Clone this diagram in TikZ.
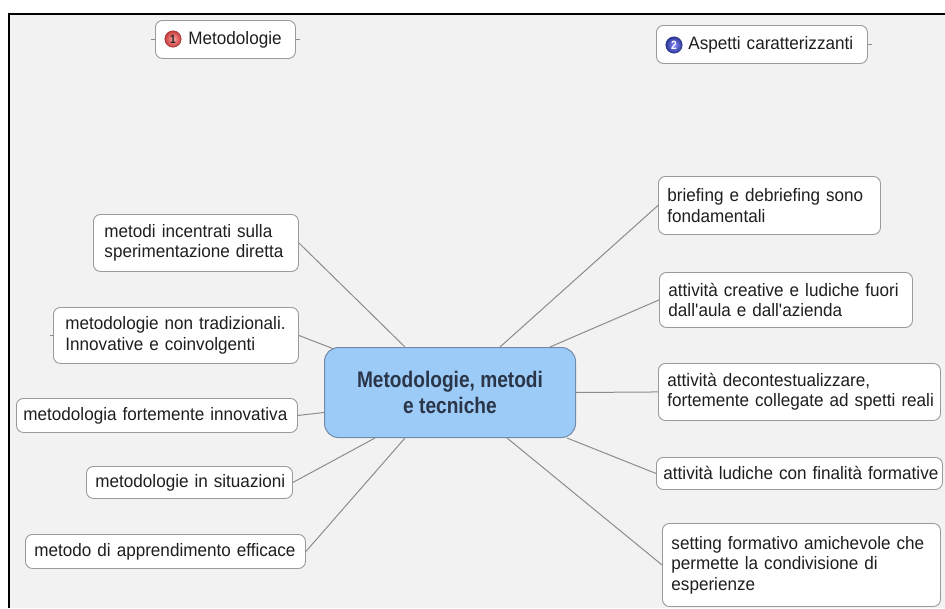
\documentclass[tikz,border=0pt]{standalone}
\usepackage{fontspec}
\setmainfont{Liberation Sans}[FakeStretch=0.95, BoldFeatures={FakeStretch=0.85}]
\usetikzlibrary{calc}
\definecolor{bg}{HTML}{F2F2F2}
\definecolor{boxborder}{HTML}{9A9A9A}
\definecolor{linkc}{HTML}{8C8C8C}
\definecolor{txt}{HTML}{1E1E1E}
\definecolor{cfill}{HTML}{9DCBF8}
\definecolor{cborder}{HTML}{6F8CAA}
\definecolor{ctext}{HTML}{2A3648}
\definecolor{redball}{HTML}{C83A3A}
\definecolor{blueball}{HTML}{2A3898}
\begin{document}
\begin{tikzpicture}[x=1pt,y=-1pt,
  box/.style={draw=boxborder, fill=white, rounded corners=7pt, line width=0.9pt,
    anchor=north west, align=left, inner xsep=9pt, inner ysep=0pt,
    font=\fontsize{18}{20.5}\selectfont, text=txt},
  centerbox/.style={draw=cborder, fill=cfill, rounded corners=14pt, line width=1pt,
    anchor=north west, align=center, inner sep=0pt,
    font=\bfseries\fontsize{22.5}{26}\selectfont, text=ctext},
  badge/.style={circle, inner sep=0pt, minimum size=16.5pt,
    font=\bfseries\fontsize{12}{12}\selectfont},
  link/.style={draw=linkc, line width=1pt}]
\useasboundingbox (0,0) rectangle (945,608);
\fill[white] (0,0) rectangle (945,608);
\fill[bg] (9,14) rectangle (945,608);
\draw[line width=2.6pt] (9,608) -- (9,14) -- (945,14);

% centre
\node[centerbox, minimum width=251pt, minimum height=90pt] (C) at (324,347)
  {Metodologie, metodi\\e tecniche};

% top headers
\node[box, text width=122pt, minimum height=38pt] (m1) at (155,20)
  {\hspace*{24pt}\mbox{Metodologie}};
\node[badge, shading=radial, inner color=red!35!white, outer color=redball,
  draw=redball!70!black, line width=0.4pt, text=black!85] (b1) at (173,39) {1};
\node[box, text width=193pt, minimum height=38pt] (m2) at (656,25)
  {\hspace*{23pt}\mbox{Aspetti caratterizzanti}};
\node[badge, shading=radial, inner color=blue!45!white, outer color=blueball,
  draw=blueball!70!black, line width=0.4pt, text=white] (b2) at (674,45) {2};

% left nodes
\node[box, inner xsep=11pt, text width=183pt, minimum height=57pt] (L1) at (93,214)
  {\mbox{metodi incentrati sulla}\\\mbox{sperimentazione diretta}};
\node[box, inner xsep=12pt, text width=221pt, minimum height=56pt] (L2) at (53,307)
  {\mbox{metodologie non tradizionali.}\\\mbox{Innovative e coinvolgenti}};
\node[box, inner xsep=7pt, text width=267pt, minimum height=34pt] (L3) at (16,398)
  {\mbox{metodologia fortemente innovativa}};
\node[box, text width=188pt, minimum height=32pt] (L4) at (86,466)
  {\mbox{metodologie in situazioni}};
\node[box, text width=262pt, minimum height=34pt] (L5) at (25,534)
  {\mbox{metodo di apprendimento efficace}};

% right nodes
\node[box, text width=204pt, minimum height=58pt] (R1) at (658,176)
  {\mbox{briefing e debriefing sono}\\\mbox{fondamentali}};
\node[box, text width=235pt, minimum height=55pt] (R2) at (659,272)
  {\mbox{attività creative e ludiche fuori}\\\mbox{dall\textquotesingle aula e dall\textquotesingle azienda}};
\node[box, text width=264pt, minimum height=57pt] (R3) at (658,363)
  {\mbox{attività decontestualizzare,}\\\mbox{fortemente collegate ad spetti reali}};
\node[box, inner xsep=7pt, text width=272pt, minimum height=32pt] (R4) at (656,457)
  {\mbox{attività ludiche con finalità formative}};
\node[box, text width=260pt, minimum height=83pt] (R5) at (662,523)
  {\mbox{setting formativo amichevole che}\\\mbox{permette la condivisione di}\\\mbox{esperienze}};

% connectors
\draw[link] (L1.east) -- ($(C.north west)+(81,0)$);
\draw[link] (L2.east) -- ($(C.north west)+(10,2)$);
\draw[link] (L3.east) -- ($(C.west)+(0,20)$);
\draw[link] (L4.east) -- ($(C.south west)+(51,0)$);
\draw[link] (L5.east) -- ($(C.south west)+(81,0)$);
\draw[link] (R1.west) -- ($(C.north west)+(176,0)$);
\draw[link] (R2.west) -- ($(C.north west)+(226,0)$);
\draw[link] (R3.west) -- (C.east);
\draw[link] (R4.west) -- ($(C.south west)+(243,0)$);
\draw[link] (R5.west) -- ($(C.south west)+(183,0)$);
\draw[link] (m1.west) -- ++(-4,0);
\draw[link] (m1.east) -- ++(4,0);
\draw[link] (m2.east) -- ++(4,0);
\draw[link] (L2.west) -- ++(-3,0);
\end{tikzpicture}
\end{document}
